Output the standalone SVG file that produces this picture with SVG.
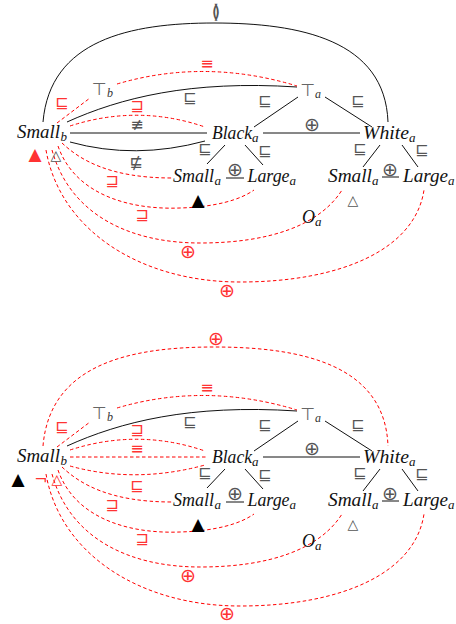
<svg xmlns="http://www.w3.org/2000/svg" width="456" height="624" viewBox="0 0 456 624">
<style>
.bg{fill:#fff}
.lbl{font-family:"Liberation Serif",serif;font-style:italic;font-size:18px;fill:#111}
.sub{font-family:"Liberation Serif",serif;font-style:italic;font-size:13px;fill:#111}
.gsub{font-family:"Liberation Serif",serif;font-style:italic;font-size:12px;fill:#333}
.sym{font-family:"DejaVu Sans",sans-serif;text-anchor:middle;dominant-baseline:central;font-size:16px;fill:#555}
.big{font-size:19px}
.tri{font-size:17px}
.otri{font-size:14px}
.btw{font-size:19px}
.top{font-family:"DejaVu Sans",sans-serif;text-anchor:middle;font-size:17px;fill:#666}
.r{fill:#f33}
.k{fill:#000}
.edge{fill:none;stroke:#111;stroke-width:1}
.dash{fill:none;stroke:#f00;stroke-width:1;stroke-dasharray:3.5 2.5}
</style>
<rect class="bg" x="0" y="0" width="456" height="624"/>

<!-- ===================== TOP DIAGRAM ===================== -->
<g id="diagram-top">
 <g id="top-connectors">
  <path class="edge" d="M43 122 C50 40 130 23 214 23 C300 23 385 40 388 122"/>
  <path class="edge" d="M67 122 C120 98 190 80 297 87"/>
  <path class="edge" d="M70 133 L207 133"/>
  <path class="edge" d="M70 142 Q135 160 205 141"/>
  <path class="edge" d="M298 97 L254 127"/>
  <path class="edge" d="M325 97 L372 127"/>
  <path class="edge" d="M263 133 L360 133"/>
  <path class="edge" d="M225 145 L207 164"/>
  <path class="edge" d="M245 145 L263 165"/>
  <path class="edge" d="M226 178 L244 178"/>
  <path class="edge" d="M380 145 L363 167"/>
  <path class="edge" d="M402 145 L418 167"/>
  <path class="edge" d="M382 177 L399 177"/>
  <path class="dash" d="M57 123 L90 98"/>
  <path class="dash" d="M117 84 Q205 58 297 86"/>
  <path class="dash" d="M70 126 Q138 104 205 127"/>
  <path class="dash" d="M62 143 C80 160 110 178 172 178"/>
  <path class="dash" d="M58 146 C75 195 130 210 180 208 C215 207 240 200 254 190"/>
  <path class="dash" d="M52 150 C70 215 130 243 200 243 C270 243 320 225 342 190"/>
  <path class="dash" d="M46 150 C60 230 140 282 240 282 C340 282 415 250 424 190"/>
  <g id="top-labels">
   <text class="sym btw" x="216" y="11">≬</text>
   <text class="sym r" x="207" y="63">≡</text>
   <text class="sym r" x="62" y="102">⊑</text>
   <text class="sym" x="190" y="97">⊑</text>
   <text class="sym" x="265" y="100">⊑</text>
   <text class="sym" x="358" y="100">⊑</text>
   <text class="sym r" x="137" y="105">⊒</text>
   <text class="sym" x="137" y="124">≢</text>
   <text class="sym" x="136" y="162">⋢</text>
   <text class="sym big" x="312" y="124">⊕</text>
   <text class="sym" x="205" y="148">⊑</text>
   <text class="sym" x="265" y="150">⊑</text>
   <text class="sym" x="360" y="148">⊑</text>
   <text class="sym" x="422" y="149">⊑</text>
   <text class="sym big" x="235" y="169">⊕</text>
   <text class="sym big" x="390" y="169">⊕</text>
   <text class="sym r" x="112" y="180">⊒</text>
   <text class="sym r" x="142" y="214">⊒</text>
   <text class="sym big r" x="188" y="251">⊕</text>
   <text class="sym big r" x="227" y="290">⊕</text>
  </g>
 </g>
 <g id="top-marks">
  <text class="sym tri r" x="35" y="154">▲</text>
  <text class="sym otri" x="56" y="155">△</text>
  <text class="sym tri k" x="198" y="200">▲</text>
  <text class="sym otri" x="353" y="200">△</text>
 </g>
 <g id="top-nodes">
  <g id="t-small-b"><text class="lbl" x="17" y="138" textLength="43" lengthAdjust="spacingAndGlyphs">Small</text><text class="sub" x="60.5" y="141">b</text></g>
  <g id="t-top-b"><text class="top" x="99.5" y="95">⊤</text><text class="gsub" x="107" y="97">b</text></g>
  <g id="t-top-a"><text class="top" x="308" y="96">⊤</text><text class="gsub" x="315" y="98">a</text></g>
  <g id="t-black"><text class="lbl" x="212" y="139" textLength="40" lengthAdjust="spacingAndGlyphs">Black</text><text class="sub" x="252" y="142">a</text></g>
  <g id="t-white"><text class="lbl" x="363" y="139" textLength="46" lengthAdjust="spacingAndGlyphs">White</text><text class="sub" x="409" y="142">a</text></g>
  <g id="t-small-a1"><text class="lbl" x="173" y="182" textLength="41" lengthAdjust="spacingAndGlyphs">Small</text><text class="sub" x="214.5" y="185">a</text></g>
  <g id="t-large-a1"><text class="lbl" x="247.5" y="182" textLength="42" lengthAdjust="spacingAndGlyphs">Large</text><text class="sub" x="289.5" y="185">a</text></g>
  <g id="t-small-a2"><text class="lbl" x="328" y="182" textLength="44" lengthAdjust="spacingAndGlyphs">Small</text><text class="sub" x="372" y="185">a</text></g>
  <g id="t-large-a2"><text class="lbl" x="403" y="182" textLength="45" lengthAdjust="spacingAndGlyphs">Large</text><text class="sub" x="448" y="185">a</text></g>
  <g id="t-o-a"><text class="lbl" x="302" y="223">O</text><text class="sub" x="315" y="226">a</text></g>
 </g>
</g>

<!-- ===================== BOTTOM DIAGRAM ===================== -->
<g id="diagram-bottom" transform="translate(0,324)">
 <g id="bottom-connectors">
  <path class="dash" d="M43 122 C50 40 130 23 214 23 C300 23 385 40 388 122"/>
  <path class="edge" d="M67 122 C120 98 190 80 297 87"/>
  <path class="dash" d="M70 133 L207 133"/>
  <path class="dash" d="M70 142 Q135 160 205 141"/>
  <path class="edge" d="M298 97 L254 127"/>
  <path class="edge" d="M325 97 L372 127"/>
  <path class="edge" d="M263 133 L360 133"/>
  <path class="edge" d="M225 145 L207 164"/>
  <path class="edge" d="M245 145 L263 165"/>
  <path class="edge" d="M226 178 L244 178"/>
  <path class="edge" d="M380 145 L363 167"/>
  <path class="edge" d="M402 145 L418 167"/>
  <path class="edge" d="M382 177 L399 177"/>
  <path class="dash" d="M57 123 L90 98"/>
  <path class="dash" d="M117 84 Q205 58 297 86"/>
  <path class="dash" d="M70 126 Q138 104 205 127"/>
  <path class="dash" d="M62 143 C80 160 110 178 172 178"/>
  <path class="dash" d="M58 146 C75 195 130 210 180 208 C215 207 240 200 254 190"/>
  <path class="dash" d="M52 150 C70 215 130 243 200 243 C270 243 320 225 342 190"/>
  <path class="dash" d="M46 150 C60 230 140 282 240 282 C340 282 415 250 424 190"/>
  <g id="bottom-labels">
   <text class="sym big r" x="216" y="14">⊕</text>
   <text class="sym r" x="207" y="63">≡</text>
   <text class="sym r" x="62" y="102">⊑</text>
   <text class="sym" x="190" y="97">⊑</text>
   <text class="sym" x="265" y="100">⊑</text>
   <text class="sym" x="358" y="100">⊑</text>
   <text class="sym r" x="137" y="105">⊒</text>
   <text class="sym r" x="137" y="124">≡</text>
   <text class="sym r" x="137" y="161">⊑</text>
   <text class="sym big" x="312" y="124">⊕</text>
   <text class="sym" x="205" y="148">⊑</text>
   <text class="sym" x="265" y="150">⊑</text>
   <text class="sym" x="360" y="148">⊑</text>
   <text class="sym" x="422" y="149">⊑</text>
   <text class="sym big" x="235" y="169">⊕</text>
   <text class="sym big" x="390" y="169">⊕</text>
   <text class="sym r" x="112" y="180">⊒</text>
   <text class="sym r" x="142" y="214">⊒</text>
   <text class="sym big r" x="188" y="251">⊕</text>
   <text class="sym big r" x="227" y="289">⊕</text>
  </g>
 </g>
 <g id="bottom-marks">
  <text class="sym tri k" x="18" y="155">▲</text>
  <text class="sym r" x="41" y="155">¬</text>
  <text class="sym otri r" x="57" y="155">△</text>
  <text class="sym tri k" x="198" y="200">▲</text>
  <text class="sym otri" x="353" y="200">△</text>
 </g>
 <g id="bottom-nodes">
  <g id="b-small-b"><text class="lbl" x="17" y="138" textLength="43" lengthAdjust="spacingAndGlyphs">Small</text><text class="sub" x="60.5" y="141">b</text></g>
  <g id="b-top-b"><text class="top" x="99.5" y="95">⊤</text><text class="gsub" x="107" y="97">b</text></g>
  <g id="b-top-a"><text class="top" x="308" y="96">⊤</text><text class="gsub" x="315" y="98">a</text></g>
  <g id="b-black"><text class="lbl" x="212" y="139" textLength="40" lengthAdjust="spacingAndGlyphs">Black</text><text class="sub" x="252" y="142">a</text></g>
  <g id="b-white"><text class="lbl" x="363" y="139" textLength="46" lengthAdjust="spacingAndGlyphs">White</text><text class="sub" x="409" y="142">a</text></g>
  <g id="b-small-a1"><text class="lbl" x="173" y="182" textLength="41" lengthAdjust="spacingAndGlyphs">Small</text><text class="sub" x="214.5" y="185">a</text></g>
  <g id="b-large-a1"><text class="lbl" x="247.5" y="182" textLength="42" lengthAdjust="spacingAndGlyphs">Large</text><text class="sub" x="289.5" y="185">a</text></g>
  <g id="b-small-a2"><text class="lbl" x="328" y="182" textLength="44" lengthAdjust="spacingAndGlyphs">Small</text><text class="sub" x="372" y="185">a</text></g>
  <g id="b-large-a2"><text class="lbl" x="403" y="182" textLength="45" lengthAdjust="spacingAndGlyphs">Large</text><text class="sub" x="448" y="185">a</text></g>
  <g id="b-o-a"><text class="lbl" x="302" y="223">O</text><text class="sub" x="315" y="226">a</text></g>
 </g>
</g>
</svg>
